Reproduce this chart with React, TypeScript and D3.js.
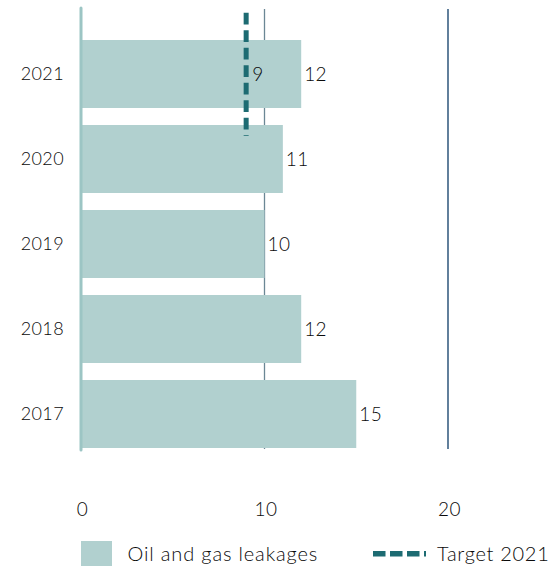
import React from "react";
import * as d3 from "d3";

const years = ["2021", "2020", "2019", "2018", "2017"];
const leakages = [12, 11, 10, 12, 15];
const target2021 = 9;
const xTicks = [0, 10, 20];
const seriesNames = ["Oil and gas leakages", "Target 2021"];

const W = 551;
const H = 566;
const FONT = "Lato, 'DejaVu Sans', sans-serif";
const BAR = "#b1d0cf";
const TEAL = "#1d6b72";
const INK = "#0a0a0a";

export default function App() {
  const x = d3.scaleLinear().domain([0, 20]).range([81, 448]);
  const y = d3.scaleBand<string>().domain(years).range([31.5, 456.5]).paddingInner(0.2).paddingOuter(0.1);
  const gridTop = 9;
  const gridBot = 449;
  const tY = y("2021")!;
  const bw = y.bandwidth();
  return (
    <div style={{ position: "absolute", left: 0, top: 0 }}>
      <svg width={W} height={H} style={{ display: "block" }} fontFamily={FONT} fontWeight={300}>
        {xTicks.filter((t) => t > 0).map((t) => (
          <line key={t} x1={x(t)} x2={x(t)} y1={gridTop} y2={gridBot}
            stroke={t === 20 ? "#0d3b66" : "#6b8795"} strokeWidth={1.3} />
        ))}
        {years.map((yr, i) => (
          <g key={yr}>
            <rect x={x(0)} y={y(yr)!} width={x(leakages[i]) - x(0)} height={bw} fill={BAR} />
            <text x={x(leakages[i]) + 3} y={y(yr)! + bw / 2} dy="0.35em" fontSize={19} letterSpacing={0.4} fill={INK}>{leakages[i]}</text>
            <text x={64} y={y(yr)! + bw / 2} dy="0.35em" fontSize={18} letterSpacing={0.4} fill={INK} textAnchor="end">{yr}</text>
          </g>
        ))}
        <line x1={x(0)} x2={x(0)} y1={8} y2={450} stroke="#9cc5c4" strokeWidth={3} strokeLinecap="round" />
        <line x1={x(target2021)} x2={x(target2021)} y1={12.7} y2={136}
          stroke={TEAL} strokeWidth={5} strokeDasharray="11.7 5.8" />
        <text x={x(target2021) + 6} y={tY + bw / 2} dy="0.35em" fontSize={19} fill={INK}>{target2021}</text>
        {xTicks.map((t) => (
          <text key={t} x={x(t) + 1.5} y={509.5} dy="0.35em" fontSize={19} letterSpacing={0.4} fill={INK} textAnchor="middle">{t}</text>
        ))}
        <rect x={81} y={541} width={31} height={25} fill={BAR} />
        <text x={127.5} y={553.5} dy="0.35em" fontSize={20} letterSpacing={0.85} fill={INK}>{seriesNames[0]}</text>
        <line x1={373} x2={426} y1={553.7} y2={553.7} stroke={TEAL} strokeWidth={5.5} strokeDasharray="12.5 4.5" />
        <text x={437} y={553.5} dy="0.35em" fontSize={20} letterSpacing={0.7} fill={INK}>{seriesNames[1]}</text>
      </svg>
    </div>
  );
}
